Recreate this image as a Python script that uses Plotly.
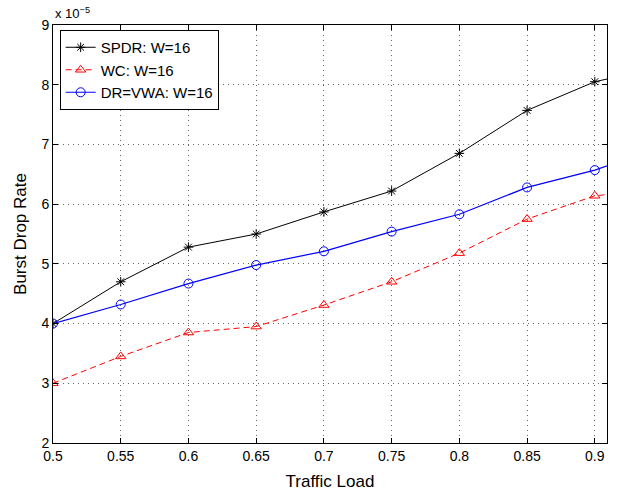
import plotly.graph_objects as go

# Traffic load values (x) -- last point is beyond the visible axis range (line continues off-plot)
traffic_load = [0.5, 0.55, 0.6, 0.65, 0.7, 0.75, 0.8, 0.85, 0.9, 0.95]

# Burst drop rate, in units of 1e-5
spdr = [4.00, 4.70, 5.28, 5.50, 5.87, 6.22, 6.85, 7.57, 8.05, 8.30]
wc = [3.00, 3.45, 3.85, 3.95, 4.31, 4.70, 5.18, 5.75, 6.14, 6.25]
dr_vwa = [4.00, 4.32, 4.67, 4.98, 5.21, 5.54, 5.83, 6.28, 6.57, 6.96]

names = ["SPDR: W=16", "WC: W=16", "DR=VWA: W=16"]

x_ticks = [0.5, 0.55, 0.6, 0.65, 0.7, 0.75, 0.8, 0.85, 0.9]
x_tick_text = ["0.5", "0.55", "0.6", "0.65", "0.7", "0.75", "0.8", "0.85", "0.9"]
y_ticks = [2, 3, 4, 5, 6, 7, 8, 9]

FONT = "Liberation Sans, Arial, Helvetica, sans-serif"

fig = go.Figure()
fig.add_trace(go.Scatter(
    x=traffic_load, y=spdr, name=names[0], mode="lines+markers",
    line=dict(color="black", width=1),
    marker=dict(symbol="asterisk-open", size=8, color="black", line=dict(color="black", width=1)),
))
fig.add_trace(go.Scatter(
    x=traffic_load, y=wc, name=names[1], mode="lines+markers",
    line=dict(color="red", width=1, dash="6px,4px"),
    marker=dict(symbol="triangle-up-open", size=9, color="red", line=dict(color="red", width=1)),
))
fig.add_trace(go.Scatter(
    x=traffic_load, y=dr_vwa, name=names[2], mode="lines+markers",
    line=dict(color="blue", width=1.2),
    marker=dict(symbol="circle-open", size=9, color="blue", line=dict(color="blue", width=1)),
))

axis_common = dict(
    showline=True, linecolor="black", linewidth=1, mirror="ticks",
    ticks="inside", ticklen=5, tickcolor="black",
    showgrid=True, gridcolor="#666666", griddash="1px,4px", gridwidth=1,
    zeroline=False, tickfont=dict(family=FONT, size=14, color="black"),
    automargin=False,
)

fig.update_xaxes(
    range=[0.5, 0.909], tickvals=x_ticks, ticktext=x_tick_text,
    title=dict(text="Traffic Load", font=dict(family=FONT, size=17, color="black"), standoff=12),
    **axis_common,
)
fig.update_yaxes(
    range=[2, 9], tickvals=y_ticks,
    title=dict(text="Burst Drop Rate", font=dict(family=FONT, size=17, color="black"), standoff=10),
    **axis_common,
)

fig.add_annotation(
    x=0, y=1, xref="paper", yref="paper", xanchor="left", yanchor="bottom",
    xshift=0, yshift=2, showarrow=False,
    text="x 10<sup>−5</sup>", font=dict(family=FONT, size=13, color="black"),
)

fig.update_layout(
    width=618, height=494,
    margin=dict(l=53, r=11, t=25, b=51, autoexpand=False),
    paper_bgcolor="white", plot_bgcolor="white",
    showlegend=True,
    legend=dict(
        x=0.012, y=0.988, xanchor="left", yanchor="top",
        bgcolor="white", bordercolor="black", borderwidth=1,
        font=dict(family=FONT, size=15, color="black"),
        tracegroupgap=0, itemwidth=30,
    ),
)

fig.write_html(
    "out.html",
    config={"displayModeBar": False},
    post_script="document.body.style.margin='0';document.body.style.overflow='hidden';",
)
